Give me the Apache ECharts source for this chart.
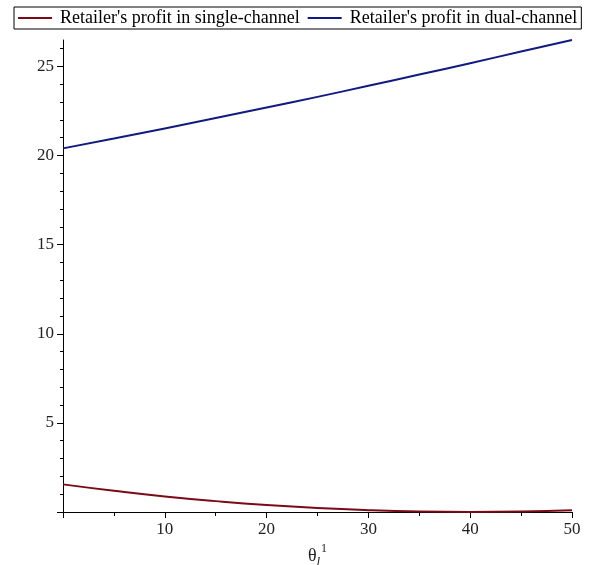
<!DOCTYPE html>
<html><head><meta charset="utf-8">
<script src="https://cdn.jsdelivr.net/npm/echarts@6/dist/echarts.min.js"></script>
<style>html,body{margin:0;padding:0;background:#fff}#c{width:589px;height:565px}</style>
</head><body><div id="c"></div>
<script>
const xs = [0,5,10,15,20,25,30,35,40,45,50];
const singleChannel = [1.55,1.19,0.87,0.61,0.39,0.22,0.10,0.025,0.0,0.025,0.10];
const dualChannel = [20.40,20.95,21.52,22.10,22.69,23.29,23.91,24.54,25.18,25.83,26.48];
const yMajorTicks = [0,5,10,15,20,25];
const yLabelValues = [5,10,15,20,25];
const yMinorTicks = [0,1,2,3,4,5,6,7,8,9,10,11,12,13,14,15,16,17,18,19,20,21,22,23,24,25,26];
const seriesNames = ["Retailer's profit in single-channel","Retailer's profit in dual-channel"];
const yMax = 26.48;

const font = 'Liberation Serif';
const chart = echarts.init(document.getElementById('c'));
const pairs = v => xs.map((x,i)=>[x,v[i]]);
chart.setOption({
  animation:false,
  textStyle:{fontFamily:font},
  legend:{
    left:14, top:7, padding:[2,4,2,4], itemGap:8, itemWidth:34, itemHeight:2, icon:'rect',
    borderColor:'#000', borderWidth:1,
    textStyle:{fontFamily:font, fontSize:18, color:'#000', padding:[0,0,0,3]},
    data:seriesNames
  },
  grid:{left:63, right:17, top:40, bottom:53, outerBoundsMode:'none', containLabel:false},
  xAxis:{
    type:'value', min:0, max:50, interval:10,
    axisLine:{lineStyle:{color:'#000', width:1}},
    axisTick:{show:true, inside:false, length:6, lineStyle:{color:'#000'}},
    minorTick:{show:true, splitNumber:2, length:4, lineStyle:{color:'#000'}},
    splitLine:{show:false},
    axisLabel:{fontFamily:font, fontSize:17, color:'#222', margin:9,
      formatter:v=> v===0 ? '' : String(v)},
    name:'{a|θ}{b|l}{c|1}', nameLocation:'middle', nameGap:30,
    nameTextStyle:{rich:{
      a:{fontFamily:font, fontSize:18, color:'#222', lineHeight:26, verticalAlign:'middle'},
      b:{fontFamily:font, fontSize:13, fontStyle:'italic', color:'#222', lineHeight:26, verticalAlign:'bottom'},
      c:{fontFamily:font, fontSize:12, color:'#222', lineHeight:26, verticalAlign:'top', padding:[0,0,0,1]}
    }}
  },
  yAxis:[{
    type:'value', min:0, max:yMax, interval:1, position:'left',
    axisLine:{show:true, onZero:false, lineStyle:{color:'#000', width:1}},
    axisTick:{show:true, inside:false, length:3, customValues:yMinorTicks, lineStyle:{color:'#000'}},
    axisLabel:{show:false},
    splitLine:{show:false}
  },{
    type:'value', min:0, max:yMax, interval:5, position:'left', offset:0,
    axisLine:{show:false},
    axisTick:{show:true, inside:false, length:6, customValues:yMajorTicks, lineStyle:{color:'#000'}},
    axisLabel:{fontFamily:font, fontSize:17, color:'#222', margin:9, customValues:yLabelValues},
    splitLine:{show:false}
  }],
  series:[
    {name:seriesNames[0], type:'line', data:pairs(singleChannel), yAxisIndex:0, smooth:true, symbol:'none',
     lineStyle:{color:'#7a0a16', width:2}, itemStyle:{color:'#7a0a16'}},
    {name:seriesNames[1], type:'line', data:pairs(dualChannel), yAxisIndex:0, smooth:true, symbol:'none',
     lineStyle:{color:'#101a80', width:2}, itemStyle:{color:'#101a80'}}
  ]
});
</script></body></html>
